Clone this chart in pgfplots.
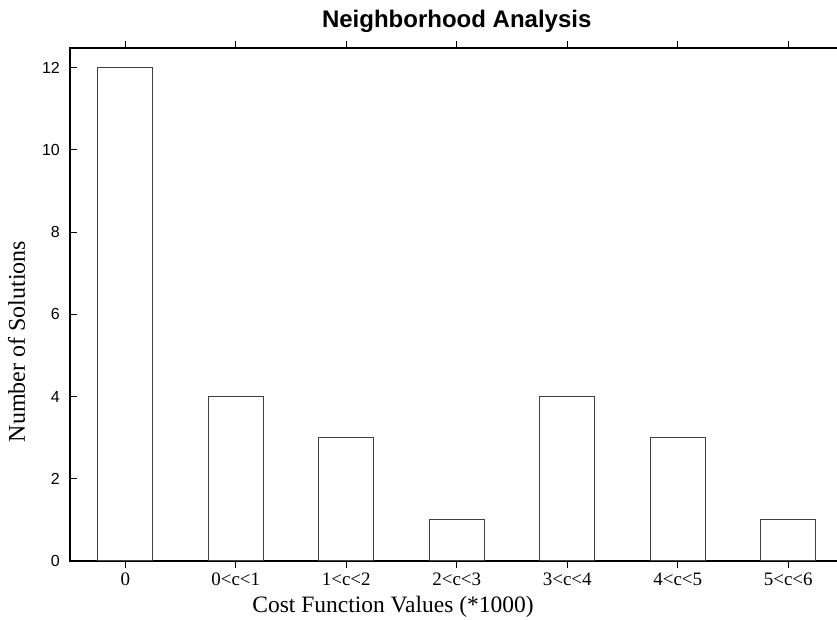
\documentclass[border=0pt]{standalone}
\usepackage{fontspec}
\setmainfont{Liberation Serif}
\newfontfamily\helv{Liberation Sans}
\usepackage{pgfplots}
\pgfplotsset{compat=1.18}
\begin{document}
\begin{tikzpicture}
\begin{axis}[
  scale only axis,
  width=773.5pt, height=513pt,
  xmin=-0.5, xmax=6.5,
  ymin=0, ymax=12.48,
  xtick={0,1,2,3,4,5,6},
  xticklabels={0,0<c<1,1<c<2,2<c<3,3<c<4,4<c<5,5<c<6},
  ytick={0,2,4,6,8,10,12},
  tick align=inside,
  major tick length=7pt,
  tick style={black, line width=1pt},
  axis line style={black, line width=1.5pt},
  /pgf/number format/assume math mode=true,
  yticklabel style={font=\helv\fontsize{16}{18}\selectfont, inner sep=0pt, anchor=east, xshift=-10pt},
  xticklabel style={font=\fontsize{19}{22}\selectfont, inner sep=0pt, anchor=base, yshift=-18pt},
  title={Neighborhood Analysis},
  title style={font=\helv\bfseries\fontsize{24}{26}\selectfont, inner sep=0pt, at={(axis description cs:0.5,1)}, anchor=base, yshift=14pt},
  xlabel={Cost Function Values (*1000)},
  xlabel style={font=\fontsize{23.5}{26}\selectfont, inner sep=0pt, at={(axis description cs:0.4176,0)}, anchor=base, yshift=-52pt},
  ylabel={Number of Solutions},
  ylabel style={font=\fontsize{24}{26}\selectfont, inner sep=0pt, at={(axis description cs:-0.0582,0.428)}, anchor=base},
  ybar, bar width=0.5,
]
\addplot[draw=black!75, fill=white, line width=1pt] coordinates {
  (0,12) (1,4) (2,3) (3,1) (4,4) (5,3) (6,1)
};
\end{axis}
\pgfresetboundingbox
\useasboundingbox (-70pt,-59pt) rectangle (767pt,561pt);
\end{tikzpicture}
\end{document}
